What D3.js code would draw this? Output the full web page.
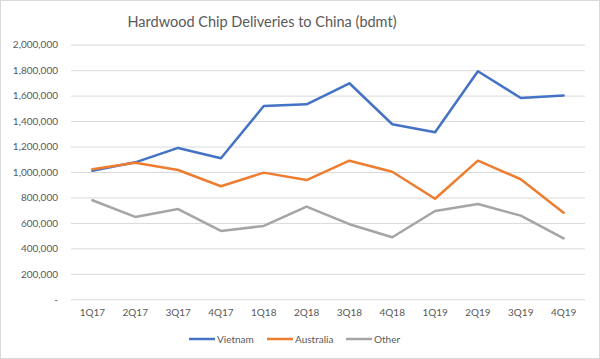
<!DOCTYPE html>
<html><head><meta charset="utf-8">
<script src="https://cdn.jsdelivr.net/npm/d3@7/dist/d3.min.js"></script>
<style>html,body{margin:0;padding:0;background:#fff;}svg{display:block;}</style>
</head><body>
<script>
const categories = ["1Q17","2Q17","3Q17","4Q17","1Q18","2Q18","3Q18","4Q18","1Q19","2Q19","3Q19","4Q19"];
const vietnam   = [1010000,1076000,1189000,1108000,1518000,1532000,1697000,1375000,1312000,1791000,1581000,1600000];
const australia = [1021000,1073000,1016000,888000,995000,937000,1089000,1002000,790000,1089000,943000,680000];
const other     = [778000,647000,709000,537000,576000,728000,590000,487000,694000,749000,657000,479000];
const yTicks = [0,200000,400000,600000,800000,1000000,1200000,1400000,1600000,1800000,2000000];
const seriesNames = ["Vietnam","Australia","Other"];
const colors = ["#4472C4","#ED7D31","#A5A5A5"];
const series = [vietnam, australia, other];

const W = 600, H = 359;
const svg = d3.select("body").append("svg").attr("width", W).attr("height", H);
const font = "Lato, 'Open Sans', sans-serif";
svg.append("rect").attr("x",0.5).attr("y",0.5).attr("width",W-1).attr("height",H-1)
  .attr("fill","#fff").attr("stroke","#d9d9d9");

const x = d3.scaleBand().domain(categories).range([71, 585]);
const y = d3.scaleLinear().domain([0, 2000000]).range([299.3, 44.7]);

svg.append("text").attr("x", 262).attr("y", 27).attr("text-anchor","middle")
  .attr("font-family", font).attr("font-size", 14.5).attr("fill","#595959")
  .text("Hardwood Chip Deliveries to China (bdmt)");

// gridlines
const yAxis = d3.axisLeft(y).tickValues(yTicks).tickSize(-(585-71))
  .tickFormat(d => d === 0 ? "-" : d3.format(",")(d)).tickPadding(13);
const gy = svg.append("g").attr("transform","translate(71,0)").call(yAxis);
gy.select(".domain").remove();
gy.selectAll(".tick line").attr("stroke","#d9d9d9").attr("stroke-width",1);
gy.selectAll(".tick text").attr("font-family", font).attr("font-size", 10).attr("fill","#595959");

const xAxis = d3.axisBottom(x).tickSize(0).tickPadding(10);
const gx = svg.append("g").attr("transform","translate(0,299.3)").call(xAxis);
gx.select(".domain").remove();
gx.selectAll(".tick text").attr("font-family", font).attr("font-size", 10).attr("fill","#595959");

const line = d3.line().x((d,i) => x(categories[i]) + x.bandwidth()/2).y(d => y(d));
series.forEach((s, k) => {
  svg.append("path").datum(s).attr("d", line).attr("fill","none")
    .attr("stroke", colors[k]).attr("stroke-width", 2.5).attr("stroke-linejoin","round").attr("stroke-linecap","round");
});

// legend
const legendX = [189, 267, 346];
const lg = svg.append("g");
seriesNames.forEach((n, k) => {
  lg.append("line").attr("x1", legendX[k]).attr("x2", legendX[k]+26).attr("y1", 339).attr("y2", 339)
    .attr("stroke", colors[k]).attr("stroke-width", 2.5);
  lg.append("text").attr("x", legendX[k]+28).attr("y", 339).attr("dy","0.35em")
    .attr("font-family", font).attr("font-size", 10).attr("fill","#595959").text(n);
});
</script>
</body></html>
